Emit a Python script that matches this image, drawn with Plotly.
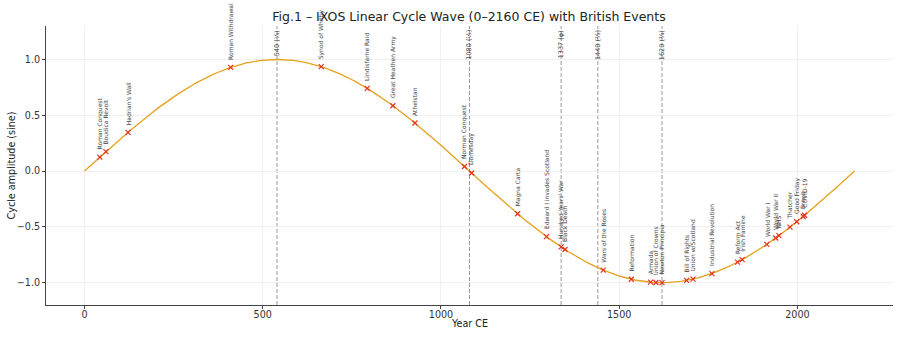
import numpy as np
import plotly.graph_objects as go

PERIOD = 2160
event_years = [43, 60, 122, 410, 664, 793, 865, 927, 1066, 1086, 1215, 1296, 1337, 1348,
               1455, 1534, 1588, 1603, 1620, 1689, 1707, 1760, 1832, 1845, 1914, 1939, 1948,
               1979, 1998, 2016, 2020]
event_names = ["Roman Conquest", "Boudica Revolt", "Hadrian's Wall", "Roman Withdrawal",
               "Synod of Whitby", "Lindisfarne Raid", "Great Heathen Army", "Athelstan",
               "Norman Conquest", "Domesday", "Magna Carta", "Edward I invades Scotland",
               "Hundred Years' War", "Black Death", "Wars of the Roses", "Reformation",
               "Armada", "Union of Crowns", "Newton Principia", "Bill of Rights",
               "Union w/Scotland", "Industrial Revolution", "Reform Act", "Irish Famine",
               "World War I", "World War II", "NHS", "Thatcher", "Good Friday", "Brexit",
               "COVID-19"]
marker_years = [540, 1080, 1337, 1440, 1620]
marker_labels = ["540 (¼)", "1080 (½)", "1337 (φ)", "1440 (⅔)", "1620 (¾)"]
x_ticks = [0, 500, 1000, 1500, 2000]
y_ticks = [-1.0, -0.5, 0.0, 0.5, 1.0]

xs = np.linspace(0, PERIOD, 1000)
ys = np.sin(2 * np.pi * xs / PERIOD)
ev_x = np.array(event_years)
ev_y = np.sin(2 * np.pi * ev_x / PERIOD)

FONT = "DejaVu Sans"
fig = go.Figure()
fig.add_trace(go.Scatter(x=xs, y=ys, mode="lines",
                         line=dict(color="#E6A11A", width=1.3), hoverinfo="skip"))
fig.add_trace(go.Scatter(x=ev_x, y=ev_y, mode="markers",
                         marker=dict(symbol="x-thin", size=5, color="#E8301C",
                                     line=dict(width=1.2, color="#E8301C"))))

shapes = []
annotations = []
for yr, lab in zip(marker_years, marker_labels):
    shapes.append(dict(type="line", x0=yr, x1=yr, y0=-1.2, y1=1.3, xref="x", yref="y",
                       line=dict(color="#9a9a9a", width=1, dash="4px,2px"), layer="below"))
    annotations.append(dict(x=yr, y=1.28, text=lab, textangle=-90, showarrow=False,
                            xanchor="center", yanchor="top",
                            font=dict(family=FONT, size=6.5, color="#444")))
for yr, yv, name in zip(ev_x, ev_y, event_names):
    annotations.append(dict(x=yr, y=yv + 0.05, text=name, textangle=-90, showarrow=False,
                            xanchor="center", yanchor="bottom",
                            font=dict(family=FONT, size=6, color="#444")))
# axis titles
annotations.append(dict(xref="paper", yref="paper", x=-0.0402, y=0.5, text="Cycle amplitude (sine)",
                        textangle=-90, showarrow=False, xanchor="center", yanchor="middle",
                        font=dict(family=FONT, size=9.6, color="#222")))
annotations.append(dict(xref="paper", yref="paper", x=0.5, y=-0.068, text="Year CE",
                        showarrow=False, xanchor="center", yanchor="middle",
                        font=dict(family=FONT, size=9.6, color="#222")))

fig.update_layout(
    width=902, height=338,
    margin=dict(l=46, r=9, t=26, b=33, autoexpand=False),
    paper_bgcolor="white", plot_bgcolor="white",
    showlegend=False,
    title=dict(text="Fig.1 – IXOS Linear Cycle Wave (0–2160 CE) with British Events",
               x=469 / 902, xanchor="center", y=1 - 17 / 338, yanchor="middle",
               font=dict(family=FONT, size=12.5, color="#222")),
    shapes=shapes, annotations=annotations,
    font=dict(family=FONT, color="#222"),
)
fig.update_xaxes(range=[-108, 2268], tickvals=x_ticks, ticks="outside", ticklen=3,
                 tickcolor="#444", showline=True, linecolor="#444", linewidth=1,
                 showgrid=True, gridcolor="#f0f0f0", gridwidth=1, zeroline=False,
                 automargin=False, ticklabelstandoff=-3,
                 tickfont=dict(size=9.6, family=FONT, color="#333"))
fig.update_yaxes(range=[-1.2, 1.3], tickvals=y_ticks, tickformat=".1f", ticks="outside",
                 ticklen=3, tickcolor="#444", showline=True, linecolor="#444", linewidth=1,
                 showgrid=True, gridcolor="#f0f0f0", gridwidth=1, zeroline=False,
                 automargin=False,
                 tickfont=dict(size=9.6, family=FONT, color="#333"))
fig.write_html("out.html")
